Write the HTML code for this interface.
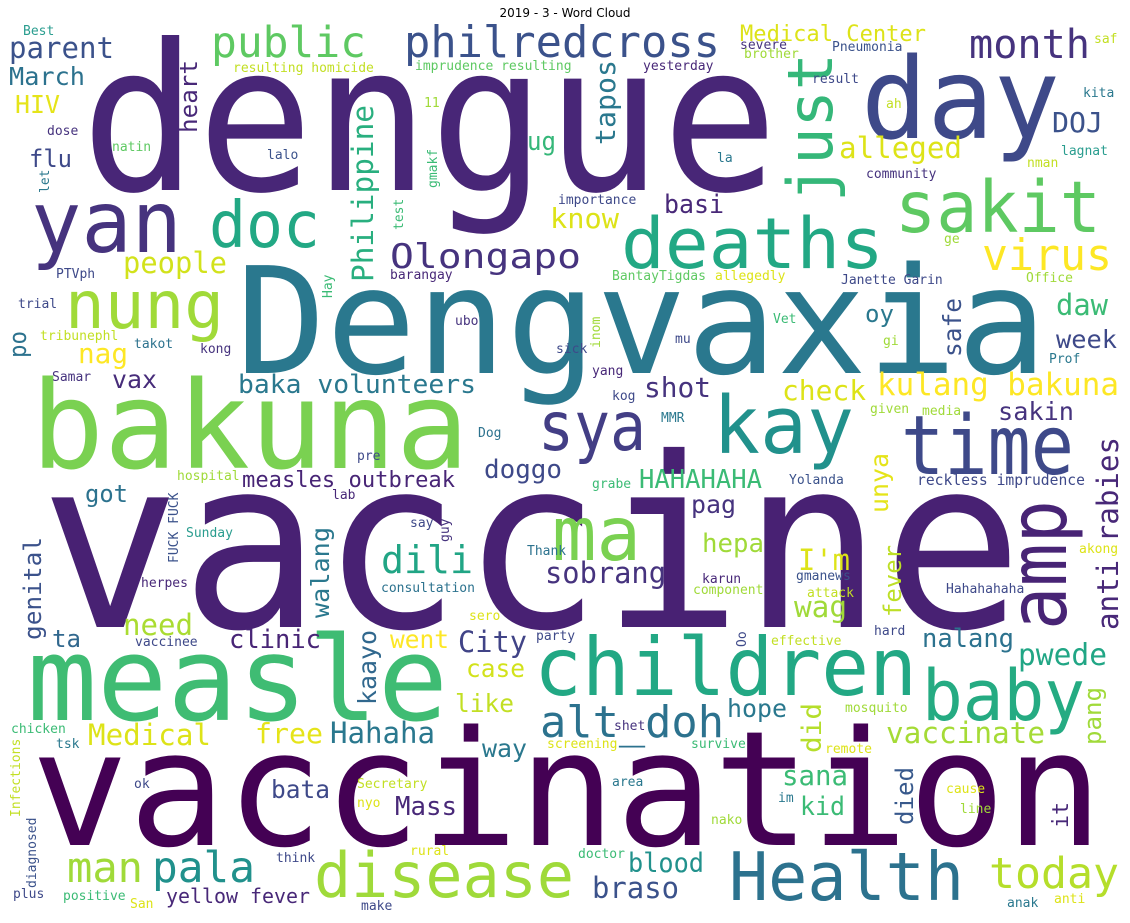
<!DOCTYPE html>
<html>
<head>
<meta charset="utf-8">
<style>
html,body{margin:0;padding:0;background:#fff;}
#wrap{position:relative;width:1130px;height:923px;overflow:hidden;background:#fff;}
svg text.w{font-family:"DejaVu Sans Mono","Liberation Mono",monospace;}
</style>
</head>
<body>
<div id="wrap">
<svg id="cloud" width="1130" height="923" viewBox="0 0 1130 923">
<text x="565" y="17" font-size="12" text-anchor="middle" fill="#000" font-family="DejaVu Sans, Liberation Sans, sans-serif">2019 - 3 - Word Cloud</text>
</svg>
</div>
<script>
// text, x, baselineY, fontSize, textLength(0=natural), color, vertical(1)
const words = [
["dengue",81,190,204,697,"#482677",0],
["Dengvaxia",236,373,148,811,"#2a788e",0],
["vaccine",40,627,237,983,"#482173",0],
["vaccination",31,845,160,1072,"#440154",0],
["bakuna",31,468,121,438,"#7ad151",0],
["measle",27,720,117,421,"#3fbc73",0],
["day",861,138,112,199,"#3e4989",0],
["yan",31,252,86,151,"#46337e",0],
["doc",209,247,64,111,"#22a884",0],
["deaths",621,268,70,263,"#22a884",0],
["sakit",895,232,71,206,"#5ec962",0],
["nung",65,328,66,159,"#a0da39",0],
["sya",538,450,68,108,"#433e85",0],
["kay",713,453,79,141,"#21918c",0],
["time",901,474,82,173,"#3e4989",0],
["children",534,695,80,383,"#22a884",0],
["baby",922,720,70,163,"#25ab82",0],
["ma",552,560,75,89,"#7ad151",0],
["dili",381,573,38,92,"#21a585",0],
["alt_doh",540,737,44,184,"#2c728e",0],
["disease",314,897,62,260,"#9fda3a",0],
["Health",729,900,67,235,"#2c728e",0],
["today",989,888,43,130,"#b5de2b",0],
["pala",152,882,43,103,"#21918c",0],
["man",67,882,42,76,"#a0da39",0],
["public",211,57,43,155,"#5ec962",0],
["philredcross",404,57,44,316,"#3b528b",0],
["month",969,58,40,121,"#46337e",0],
["Olongapo",390,268,34,191,"#46337e",0],
["virus",982,270,44,130,"#fde725",0],
["just",832,202,62,149,"#35b779",1],
["amp",1066,630,80,130,"#482475",1],
["parent",9,58,29,105,"#3b528b",0],
["March",9,85,25,76,"#2c728e",0],
["HIV",15,113,25,45,"#e5e419",0],
["flu",29,167,24,43,"#3e4989",0],
["heart",197,133,24,73,"#482878",1],
["Medical Center",740,41,22,186,"#dde318",0],
["DOJ",1052,132,28,51,"#3b528b",0],
["alleged",839,158,29,123,"#dde318",0],
["tapos",615,145,28,85,"#2a788e",1],
["ug",527,150,26,29,"#35b779",0],
["Philippine",373,282,29,177,"#29af7f",1],
["know",550,228,28,69,"#dde318",0],
["basi",664,213,26,60,"#482878",0],
["people",123,273,29,104,"#d2e21b",0],
["po",26,358,24,27,"#2c728e",1],
["nag",78,363,28,50,"#fde725",0],
["vax",112,388,25,45,"#472c7a",0],
["baka volunteers",238,393,26,238,"#2a788e",0],
["shot",644,397,28,67,"#46337e",0],
["check",782,400,28,84,"#dde318",0],
["kulang bakuna",877,395,31,242,"#fde725",0],
["week",1056,348,25,61,"#3e4989",0],
["daw",1056,315,29,52,"#3bbb75",0],
["oy",865,322,24,29,"#2a788e",0],
["safe",961,357,25,59,"#3b528b",1],
["sakin",998,420,25,76,"#46337e",0],
["anti rabies",1118,630,29,193,"#482878",1],
["doggo",484,478,26,78,"#3e4989",0],
["measles outbreak",242,487,22,213,"#482576",0],
["HAHAHAHA",639,488,26,123,"#3bbb75",0],
["got",85,502,24,43,"#2c728e",0],
["unya",888,513,25,60,"#e5e419",1],
["reckless imprudence",917,485,15,168,"#3e4989",0],
["pag",691,513,25,45,"#46337e",0],
["I'm",798,570,29,52,"#dde318",0],
["hepa",702,552,26,62,"#a0da39",0],
["sobrang",545,583,29,121,"#46337e",0],
["wag",794,617,29,53,"#a0da39",0],
["fever",901,617,24,72,"#bddf26",1],
["genital",41,640,24,103,"#3b528b",1],
["walang",329,618,25,91,"#2a788e",1],
["need",123,635,29,70,"#aadc32",0],
["ta",52,647,24,29,"#31688e",0],
["clinic",229,648,26,92,"#482576",0],
["went",390,648,25,59,"#fde725",0],
["kaayo",376,705,25,75,"#31688e",1],
["City",458,652,29,69,"#414487",0],
["case",466,677,25,59,"#d2e21b",0],
["nalang",922,647,26,92,"#2c728e",0],
["pwede",1018,665,30,89,"#21a685",0],
["like",455,712,25,59,"#c2df23",0],
["hope",727,717,25,60,"#2a788e",0],
["did",821,753,27,50,"#b5de2b",1],
["pang",1101,745,24,58,"#a0da39",1],
["way",482,757,25,45,"#2a788e",0],
["Hahaha",330,743,29,105,"#2a788e",0],
["free",255,743,28,68,"#e5e419",0],
["Medical",88,745,29,123,"#dde318",0],
["vaccinate",886,743,29,159,"#a5db36",0],
["sana",782,785,28,66,"#3bbb75",0],
["bata",271,798,25,59,"#3e4989",0],
["Mass",395,815,26,62,"#482878",0],
["kid",800,815,26,45,"#3bbb75",0],
["died",913,825,24,58,"#38598c",1],
["it",1068,828,22,26,"#482878",1],
["blood",628,872,27,76,"#21918c",0],
["braso",592,898,29,87,"#3b528b",0],
["yellow fever",166,903,20,144,"#482878",0]
];
// small words: text, x, baselineY, color, vertical(1)
const smallWords = [
["Best",23,35,"#2a9d8f",0],["resulting homicide",233,72,"#c2df23",0],["imprudence resulting",415,70,"#5ec962",0],
["severe",740,49,"#46337e",0],["brother",744,58,"#a0da39",0],["Pneumonia",832,51,"#3b528b",0],
["saf",1094,43,"#c2df23",0],["yesterday",643,70,"#482878",0],["result",812,83,"#3e4989",0],
["kita",1083,97,"#2a788e",0],["ah",886,108,"#c2df23",0],["la",717,162,"#2a788e",0],
["lagnat",1061,155,"#2a9d8f",0],["nman",1027,167,"#c2df23",0],["community",866,178,"#46337e",0],
["importance",558,204,"#3e4989",0],["ge",944,243,"#a0da39",0],["BantayTigdas",612,280,"#5ec962",0],
["allegedly",715,280,"#dde318",0],["Janette Garin",841,284,"#3e4989",0],["Office",1026,282,"#a0da39",0],
["Vet",773,323,"#3bbb75",0],["mu",675,343,"#3e4989",0],["gi",883,345,"#a0da39",0],
["sick",556,353,"#3e4989",0],["Prof",1049,363,"#2a788e",0],["yang",592,375,"#482878",0],
["kog",612,400,"#3e4989",0],["given",870,413,"#a0da39",0],["media",922,415,"#a0da39",0],["MMR",661,422,"#2a788e",0],
["dose",47,135,"#46337e",0],["natin",112,151,"#5ec962",0],["lalo",267,159,"#3b528b",0],
["11",424,107,"#a0da39",0],["PTVph",56,278,"#3e4989",0],["barangay",390,279,"#482878",0],
["trial",18,308,"#3e4989",0],["tribunephl",40,340,"#c2df23",0],["takot",134,348,"#2c728e",0],
["kong",200,353,"#46337e",0],["ubo",455,325,"#46337e",0],["Samar",52,381,"#46337e",0],
["Dog",478,437,"#2c728e",0],["pre",357,460,"#3e4989",0],
["hospital",177,480,"#a0da39",0],["lab",332,499,"#482878",0],["say",410,527,"#3e4989",0],
["Sunday",186,537,"#2a9d8f",0],["herpes",141,587,"#482878",0],["consultation",381,592,"#2c728e",0],
["Thank",527,555,"#2c728e",0],["sero",469,620,"#dde318",0],["vaccinee",135,646,"#3e4989",0],
["party",536,640,"#3e4989",0],["chicken",11,733,"#3bbb75",0],["tsk",56,748,"#2a788e",0],
["ok",134,788,"#3e4989",0],["Secretary",357,788,"#c2df23",0],["nyo",357,807,"#dde318",0],
["think",276,862,"#3e4989",0],["rural",410,855,"#dde318",0],["plus",13,898,"#3e4989",0],
["positive",63,900,"#3bbb75",0],["San",130,908,"#dde318",0],["make",361,910,"#3e4989",0],
["grabe",592,488,"#3bbb75",0],["Yolanda",789,484,"#3b528b",0],["karun",702,583,"#482878",0],
["component",693,594,"#a0da39",0],["gmanews",796,580,"#3b528b",0],["attack",807,597,"#c2df23",0],
["Hahahahaha",946,593,"#3e4989",0],["akong",1079,553,"#dde318",0],["hard",874,635,"#3e4989",0],
["effective",771,645,"#c2df23",0],["mosquito",845,712,"#a0da39",0],["shet",614,730,"#46337e",0],
["screening",547,748,"#dde318",0],["survive",691,748,"#3bbb75",0],["remote",825,753,"#dde318",0],
["area",612,786,"#2a788e",0],["cause",946,793,"#dde318",0],["im",778,802,"#2a788e",0],
["line",960,813,"#a0da39",0],["nako",711,824,"#a0da39",0],["doctor",578,858,"#3bbb75",0],
["anak",1007,907,"#2a788e",0],["anti",1054,903,"#dde318",0],
["let",49,193,"#2a788e",1],["gmakf",437,188,"#3bbb75",1],["test",403,230,"#3bbb75",1],
["Hay",332,298,"#3bbb75",1],["inom",600,348,"#a0da39",1],["FUCK FUCK",178,563,"#3b528b",1],
["guy",449,542,"#46337e",1],["Infections",20,817,"#c2df23",1],["diagnosed",36,888,"#3b528b",1],
["Oo",746,647,"#3e4989",1]
];
const svg = document.getElementById('cloud');
const NS = 'http://www.w3.org/2000/svg';
function addWord(w, s, x, y, len, color, rot){
  const t = document.createElementNS(NS,'text');
  t.setAttribute('class','w');
  t.setAttribute('font-size', s);
  t.setAttribute('fill', color);
  if (len) { t.setAttribute('textLength', len); t.setAttribute('lengthAdjust','spacingAndGlyphs'); }
  if (rot) { t.setAttribute('transform','translate('+x+','+y+') rotate(-90)'); t.setAttribute('x',0); t.setAttribute('y',0); }
  else { t.setAttribute('x', x); t.setAttribute('y', y); }
  t.textContent = w;
  
  
  svg.appendChild(t);
}
words.forEach(d => addWord(d[0], d[3], d[1], d[2], d[4], d[5], d[6]));
smallWords.forEach(d => addWord(d[0], 13, d[1], d[2], 0, d[3], d[4]));
</script>
</body>
</html>
